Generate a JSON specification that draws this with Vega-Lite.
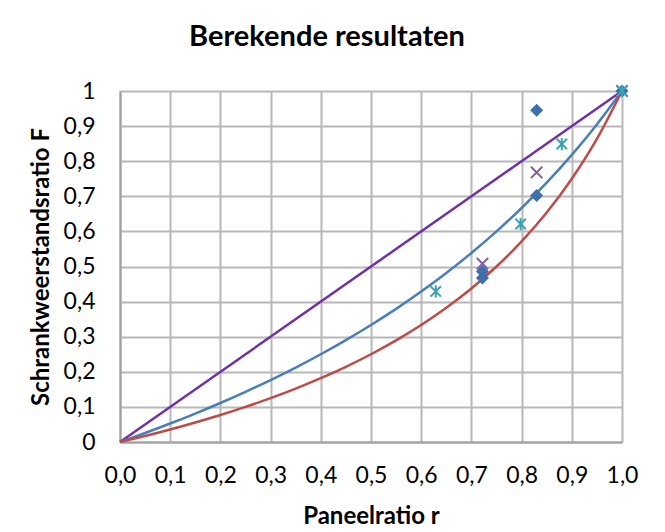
{
  "$schema": "https://vega.github.io/schema/vega-lite/v6.json",
  "width": 502,
  "height": 351,
  "autosize": "none",
  "padding": {"left": 120, "top": 91, "right": 43, "bottom": 90},
  "background": "white",
  "title": {
    "text": "Berekende resultaten",
    "font": "Lato",
    "fontSize": 29,
    "fontWeight": "bold",
    "color": "#000000",
    "anchor": "middle",
    "dx": -44,
    "offset": 28
  },
  "config": {
    "view": {"stroke": null},
    "axis": {
      "labelFont": "Lato",
      "labelFontSize": 23,
      "labelColor": "#000000",
      "titleFont": "Lato",
      "titleFontSize": 24,
      "titleFontWeight": "bold",
      "titleColor": "#000000",
      "gridColor": "#B8B8B8",
      "gridWidth": 2,
      "gridOpacity": 1,
      "domainColor": "#A0A0A0",
      "domainWidth": 2,
      "ticks": false,
      "labelOverlap": false,
      "labelSeparation": 0
    }
  },
  "datasets": {
    "curves": [
      {"series": "a", "r": 0, "F": 0},
      {"series": "a", "r": 1, "F": 1},
      {"series": "b", "r": 0, "F": 0},
      {"series": "b", "r": 0.05, "F": 0.0256},
      {"series": "b", "r": 0.1, "F": 0.0526},
      {"series": "b", "r": 0.15, "F": 0.0811},
      {"series": "b", "r": 0.2, "F": 0.1111},
      {"series": "b", "r": 0.25, "F": 0.1429},
      {"series": "b", "r": 0.3, "F": 0.1765},
      {"series": "b", "r": 0.35, "F": 0.2121},
      {"series": "b", "r": 0.4, "F": 0.25},
      {"series": "b", "r": 0.45, "F": 0.2903},
      {"series": "b", "r": 0.5, "F": 0.3333},
      {"series": "b", "r": 0.55, "F": 0.3793},
      {"series": "b", "r": 0.6, "F": 0.4286},
      {"series": "b", "r": 0.65, "F": 0.4815},
      {"series": "b", "r": 0.7, "F": 0.5385},
      {"series": "b", "r": 0.75, "F": 0.6},
      {"series": "b", "r": 0.8, "F": 0.6667},
      {"series": "b", "r": 0.85, "F": 0.7391},
      {"series": "b", "r": 0.9, "F": 0.8182},
      {"series": "b", "r": 0.95, "F": 0.9048},
      {"series": "b", "r": 1, "F": 1},
      {"series": "c", "r": 0, "F": 0},
      {"series": "c", "r": 0.05, "F": 0.0172},
      {"series": "c", "r": 0.1, "F": 0.0357},
      {"series": "c", "r": 0.15, "F": 0.0556},
      {"series": "c", "r": 0.2, "F": 0.0769},
      {"series": "c", "r": 0.25, "F": 0.1},
      {"series": "c", "r": 0.3, "F": 0.125},
      {"series": "c", "r": 0.35, "F": 0.1522},
      {"series": "c", "r": 0.4, "F": 0.1818},
      {"series": "c", "r": 0.45, "F": 0.2143},
      {"series": "c", "r": 0.5, "F": 0.25},
      {"series": "c", "r": 0.55, "F": 0.2895},
      {"series": "c", "r": 0.6, "F": 0.3333},
      {"series": "c", "r": 0.65, "F": 0.3824},
      {"series": "c", "r": 0.7, "F": 0.4375},
      {"series": "c", "r": 0.75, "F": 0.5},
      {"series": "c", "r": 0.8, "F": 0.5714},
      {"series": "c", "r": 0.85, "F": 0.6538},
      {"series": "c", "r": 0.9, "F": 0.75},
      {"series": "c", "r": 0.95, "F": 0.8636},
      {"series": "c", "r": 1, "F": 1}
    ],
    "diamonds": [
      {"r": 0.83, "F": 0.945},
      {"r": 0.83, "F": 0.702},
      {"r": 0.722, "F": 0.486},
      {"r": 0.722, "F": 0.467},
      {"r": 1, "F": 1}
    ],
    "crosses": [
      {"r": 0.83, "F": 0.768},
      {"r": 0.722, "F": 0.508},
      {"r": 1, "F": 1}
    ],
    "stars": [
      {"r": 0.88, "F": 0.849},
      {"r": 0.798, "F": 0.621},
      {"r": 0.629, "F": 0.429},
      {"r": 1, "F": 1}
    ]
  },
  "encoding": {
    "x": {
      "field": "r", "type": "quantitative",
      "scale": {"domain": [0, 1], "nice": false, "zero": true},
      "axis": {
        "values": [0, 0.1, 0.2, 0.3, 0.4, 0.5, 0.6, 0.7, 0.8, 0.9, 1],
        "labelExpr": "replace(format(datum.value, '.1f'), '.', ',')",
        "title": "Paneelratio r",
        "labelPadding": 22,
        "titlePadding": 17,
        "labelFlush": false,
        "labelOverlap": false
      }
    },
    "y": {
      "field": "F", "type": "quantitative",
      "scale": {"domain": [0, 1], "nice": false},
      "axis": {
        "values": [0, 0.1, 0.2, 0.3, 0.4, 0.5, 0.6, 0.7, 0.8, 0.9, 1],
        "labelExpr": "datum.value == 0 ? '0' : datum.value == 1 ? '1' : replace(format(datum.value, '.1f'), '.', ',')",
        "title": "Schrankweerstandsratio F",
        "labelPadding": 25,
        "titlePadding": 10,
        "labelFlush": false,
        "labelOverlap": false,
        "labelBound": false
      }
    }
  },
  "layer": [
    {
      "data": {"name": "curves"},
      "mark": {"type": "line", "strokeWidth": 2.5, "interpolate": "monotone"},
      "encoding": {
        "color": {
          "field": "series", "type": "nominal",
          "scale": {"domain": ["a", "b", "c"], "range": ["#7030A8", "#4A7EBB", "#BE4B48"]},
          "legend": null
        },
        "detail": {"field": "series"}
      }
    },
    {
      "data": {"name": "diamonds"},
      "mark": {"type": "point", "shape": "diamond", "filled": true, "size": 170, "color": "#3F6EAD", "opacity": 1}
    },
    {
      "data": {"name": "crosses"},
      "mark": {"type": "point", "shape": "M-1,-1L1,1M-1,1L1,-1", "filled": false, "size": 130, "stroke": "#7D5FA3", "strokeWidth": 2, "opacity": 1}
    },
    {
      "data": {"name": "stars"},
      "mark": {"type": "point", "shape": "M0,-1L0,1M-0.85,-0.85L0.85,0.85M-0.85,0.85L0.85,-0.85", "filled": false, "size": 150, "stroke": "#3AA3B3", "strokeWidth": 2, "opacity": 1}
    }
  ]
}
